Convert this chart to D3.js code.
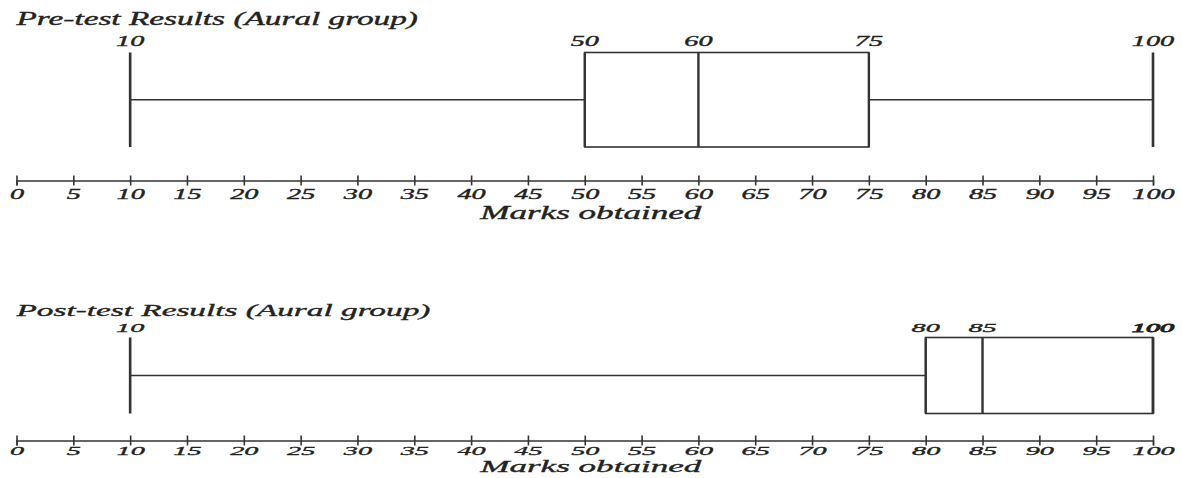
<!DOCTYPE html>
<html><head><meta charset="utf-8">
<script src="https://cdn.jsdelivr.net/npm/d3@7/dist/d3.min.js"></script>
<style>
body{margin:0;background:#fff;}
text{font-family:"Liberation Serif","DejaVu Serif",serif;font-style:italic;fill:#222;stroke:#222;stroke-width:0.35px;}
</style></head>
<body><svg id="c" width="1182" height="478"></svg>
<script>
const groups = ["Pre-test Results (Aural group)", "Post-test Results (Aural group)"];
const mins = [10, 10];
const q1s = [50, 80];
const medians = [60, 85];
const q3s = [75, 100];
const maxs = [100, 100];
const tickValues = [0,5,10,15,20,25,30,35,40,45,50,55,60,65,70,75,80,85,90,95,100];
const axisTitle = "Marks obtained";

const svg = d3.select("#c");
const x = d3.scaleLinear().domain([0,100]).range([16.5,1153]);
const stroke = "#333";
const SX = 1.95;

const panels = [
  {title:25, lab:46, top:52.5, bot:147, axis:180.5, tdy:18.5, atitle:219, sy:1},
  {title:315.5, lab:331.5, top:337.5, bot:413.5, axis:440.5, tdy:14, atitle:471.5, sy:0.88}
];

function stext(g, str, px, py, size, anchor, sx, sy){
  return g.append("text")
    .attr("transform", `translate(${px},${py}) scale(${sx},${sy||1})`)
    .attr("text-anchor", anchor)
    .style("font-size", size+"px")
    .text(str);
}

groups.forEach((name, i) => {
  const P = panels[i];
  const g = svg.append("g");
  stext(g, name, 16.5, P.title, 18, "start", 1.85, P.sy);
  const ym = (P.top + P.bot)/2;
  g.append("line").attr("x1", x(mins[i])).attr("x2", x(q1s[i])).attr("y1", ym).attr("y2", ym)
    .attr("stroke", stroke).attr("stroke-width", 1.4);
  g.append("line").attr("x1", x(q3s[i])).attr("x2", x(maxs[i])).attr("y1", ym).attr("y2", ym)
    .attr("stroke", stroke).attr("stroke-width", 1.4);
  [mins[i], maxs[i]].forEach(v => {
    g.append("line").attr("x1", x(v)).attr("x2", x(v)).attr("y1", P.top).attr("y2", P.bot)
      .attr("stroke", stroke).attr("stroke-width", 2.6);
  });
  g.append("rect").attr("x", x(q1s[i])).attr("y", P.top)
    .attr("width", x(q3s[i]) - x(q1s[i])).attr("height", P.bot - P.top)
    .attr("fill", "none").attr("stroke", stroke).attr("stroke-width", 1.6);
  [q1s[i], q3s[i], medians[i]].forEach(v => {
    g.append("line").attr("x1", x(v)).attr("x2", x(v)).attr("y1", P.top).attr("y2", P.bot)
      .attr("stroke", stroke).attr("stroke-width", 2.4);
  });
  const vals = Array.from(new Set([mins[i], q1s[i], medians[i], q3s[i], maxs[i]]));
  vals.forEach(v => {
    const t = stext(g, String(v), x(v), P.lab, 14.5, "middle", SX, P.sy);
    if (i === 1 && v === maxs[i]) t.style("stroke-width", "0.9px");
  });
  const ax = g.append("g").attr("transform", `translate(0,${P.axis})`)
    .call(d3.axisBottom(x).tickValues(tickValues).tickSizeOuter(0).tickSize(5));
  ax.attr("font-size", null).attr("font-family", null);
  ax.select(".domain").attr("stroke", stroke).attr("stroke-width", 1.4);
  ax.selectAll(".tick line").attr("y1", -5).attr("y2", 5).attr("stroke", stroke).attr("stroke-width", 1.6);
  ax.selectAll(".tick text").attr("y", 0).attr("dy", null)
    .attr("transform", `translate(0,${P.tdy}) scale(${SX},${P.sy})`)
    .style("font-size", "14.5px")
    .attr("fill", "#222");
  stext(g, axisTitle, x(50) + 6, P.atitle, 18, "middle", 1.95, P.sy);
});
</script></body></html>
